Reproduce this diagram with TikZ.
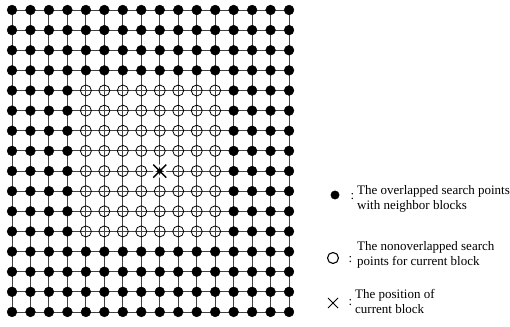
\documentclass[tikz,border=0pt]{standalone}
\usepackage{fontspec}
\setmainfont{Liberation Serif}
\usetikzlibrary{positioning,calc}

\begin{document}
\begin{tikzpicture}[x=1pt, y=1pt,
  latline/.style = {line width=0.9pt, black!75},
  ring/.style = {line width=0.8pt, black},
  legtext/.style = {anchor=west, align=left, inner sep=0pt, font=\fontsize{13}{15}\selectfont}]
\useasboundingbox (0, 0) rectangle (510, 326);
% lattice of search points, 16 x 16
\foreach \i in {0,...,15}
  \foreach \j in {0,...,15}
    \coordinate (p-\i-\j) at ({12 + 18.47*\i}, {316 - 20.13*\j});
\foreach \k in {0,...,15} {
  \draw[latline] (p-0-\k) -- (p-15-\k);
  \draw[latline] (p-\k-0) -- (p-\k-15);
}
\foreach \i in {0,...,15}
  \foreach \j in {0,...,15} {
    \pgfmathtruncatemacro\inblock{and(and(\i>3, \i<12), and(\j>3, \j<12))}
    \ifnum\inblock=1
      \draw[ring] (p-\i-\j) circle(5.5);
    \else
      \filldraw[black] (p-\i-\j) circle(4.9);
    \fi
  }
% current block position
\draw[white, line width=2pt] (p-8-8) circle(5.5);
\draw[line width=1.4pt] ($(p-8-8) + (-6.5, -6.5)$) -- ($(p-8-8) + (6.5, 6.5)$)
  ($(p-8-8) + (-6.5, 6.5)$) -- ($(p-8-8) + (6.5, -6.5)$);
\filldraw[black] (p-8-8) circle(2.4);

% legend
\coordinate (symA) at (335, 131);
\coordinate (symB) at (333, 68);
\coordinate (symC) at (333, 23);
\filldraw[black] (symA) circle(4.2);
\draw[line width=1.1pt] (symB) circle(5.5);
\draw[line width=0.9pt] ($(symC) + (-5, -5)$) -- ($(symC) + (5, 5)$)
  ($(symC) + (-5, 5)$) -- ($(symC) + (5, -5)$);
\node[legtext] (colA) at (350.5, 129) {:};
\node[legtext] (colB) at (348.5, 66) {:};
\node[legtext] (colC) at (348.5, 23) {:};
\node[legtext] (txtA) at (357, 127) {The overlapped search points\\with neighbor blocks};
\node[legtext] (txtB) at (357, 71) {The nonoverlapped search\\points for current block};
\node[legtext] (txtC) at (355, 24.5) {The position of\\current block};
\end{tikzpicture}
\end{document}
